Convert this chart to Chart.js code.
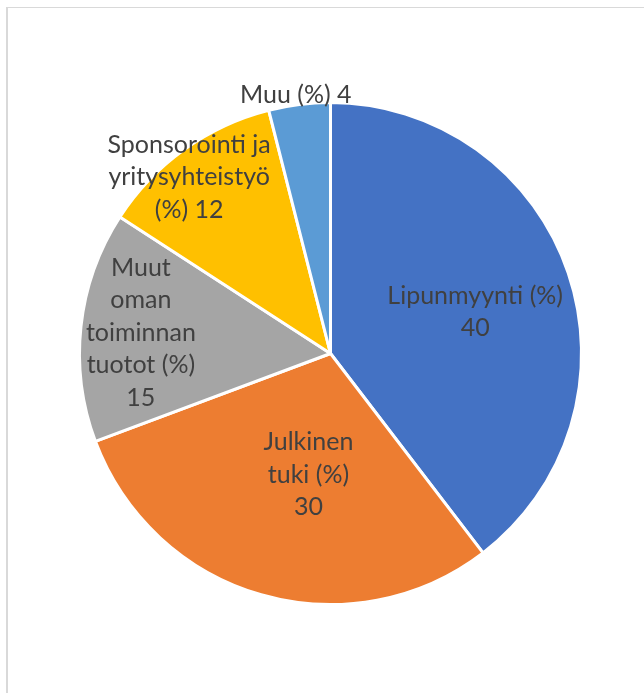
<!DOCTYPE html>
<html>
<head>
<meta charset="utf-8">
<script src="https://cdn.jsdelivr.net/npm/chart.js@4.4.0/dist/chart.umd.min.js"></script>
<style>
  html, body { margin: 0; padding: 0; background: #fff; }
  #wrap { position: relative; width: 644px; height: 693px; overflow: hidden; }
  #frame { position: absolute; left: 6px; top: 7px; width: 700px; height: 700px;
           border-left: 2px solid #d9d9d9; border-top: 1px solid #d9d9d9; }
  canvas { position: absolute; left: 0; top: 0; }
</style>
</head>
<body>
<div id="wrap">
  <div id="frame"></div>
  <canvas id="pie" width="644" height="693"></canvas>
</div>
<script>
// category names, already split into the lines shown on the chart
const categories = [
  ['Lipunmyynti (%)'],
  ['Julkinen', 'tuki (%)'],
  ['Muut', 'oman', 'toiminnan', 'tuotot (%)'],
  ['Sponsorointi ja', 'yritysyhteistyö', '(%)'],
  ['Muu (%)']
];
const values = [40, 30, 15, 12, 4];
const colors = ['#4472C4', '#ED7D31', '#A5A5A5', '#FFC000', '#5B9BD5'];

// label placement: fraction of radius, angle nudge (deg), value on its own line?
const labelRadius = [0.60, 0.49, 0.76, 0.90, 1.04];
const labelShift = [2.6, -5.7, 0, -3.1, -0.5];
const valueOwnLine = [true, true, true, false, false];
const labelFont = '25px Lato';
const lineHeight = 32.5;

const sliceLabels = {
  id: 'sliceLabels',
  afterDatasetsDraw(chart) {
    const ctx = chart.ctx;
    const meta = chart.getDatasetMeta(0);
    ctx.save();
    ctx.font = labelFont;
    ctx.fillStyle = '#404040';
    ctx.textAlign = 'center';
    ctx.textBaseline = 'middle';
    meta.data.forEach((arc, i) => {
      const p = arc.getProps(['x', 'y', 'startAngle', 'endAngle', 'outerRadius'], true);
      const mid = (p.startAngle + p.endAngle) / 2 + labelShift[i] * Math.PI / 180;
      const r = p.outerRadius * labelRadius[i];
      const cx = p.x + Math.cos(mid) * r;
      const cy = p.y + Math.sin(mid) * r;
      const lines = categories[i].slice();
      if (valueOwnLine[i]) lines.push(String(values[i]));
      else lines[lines.length - 1] += ' ' + values[i];
      const y0 = cy - (lines.length - 1) * lineHeight / 2;
      lines.forEach((ln, k) => ctx.fillText(ln, cx, y0 + k * lineHeight));
    });
    ctx.restore();
  }
};

new Chart(document.getElementById('pie').getContext('2d'), {
  type: 'pie',
  data: {
    labels: categories,
    datasets: [{
      data: values,
      backgroundColor: colors,
      borderColor: '#ffffff',
      borderWidth: 3,
      hoverOffset: 0
    }]
  },
  options: {
    responsive: false,
    animation: false,
    layout: { padding: { left: 78, top: 101, right: 61, bottom: 87 } },
    plugins: {
      legend: { display: false },
      tooltip: { enabled: false }
    }
  },
  plugins: [sliceLabels]
});
</script>
</body>
</html>
